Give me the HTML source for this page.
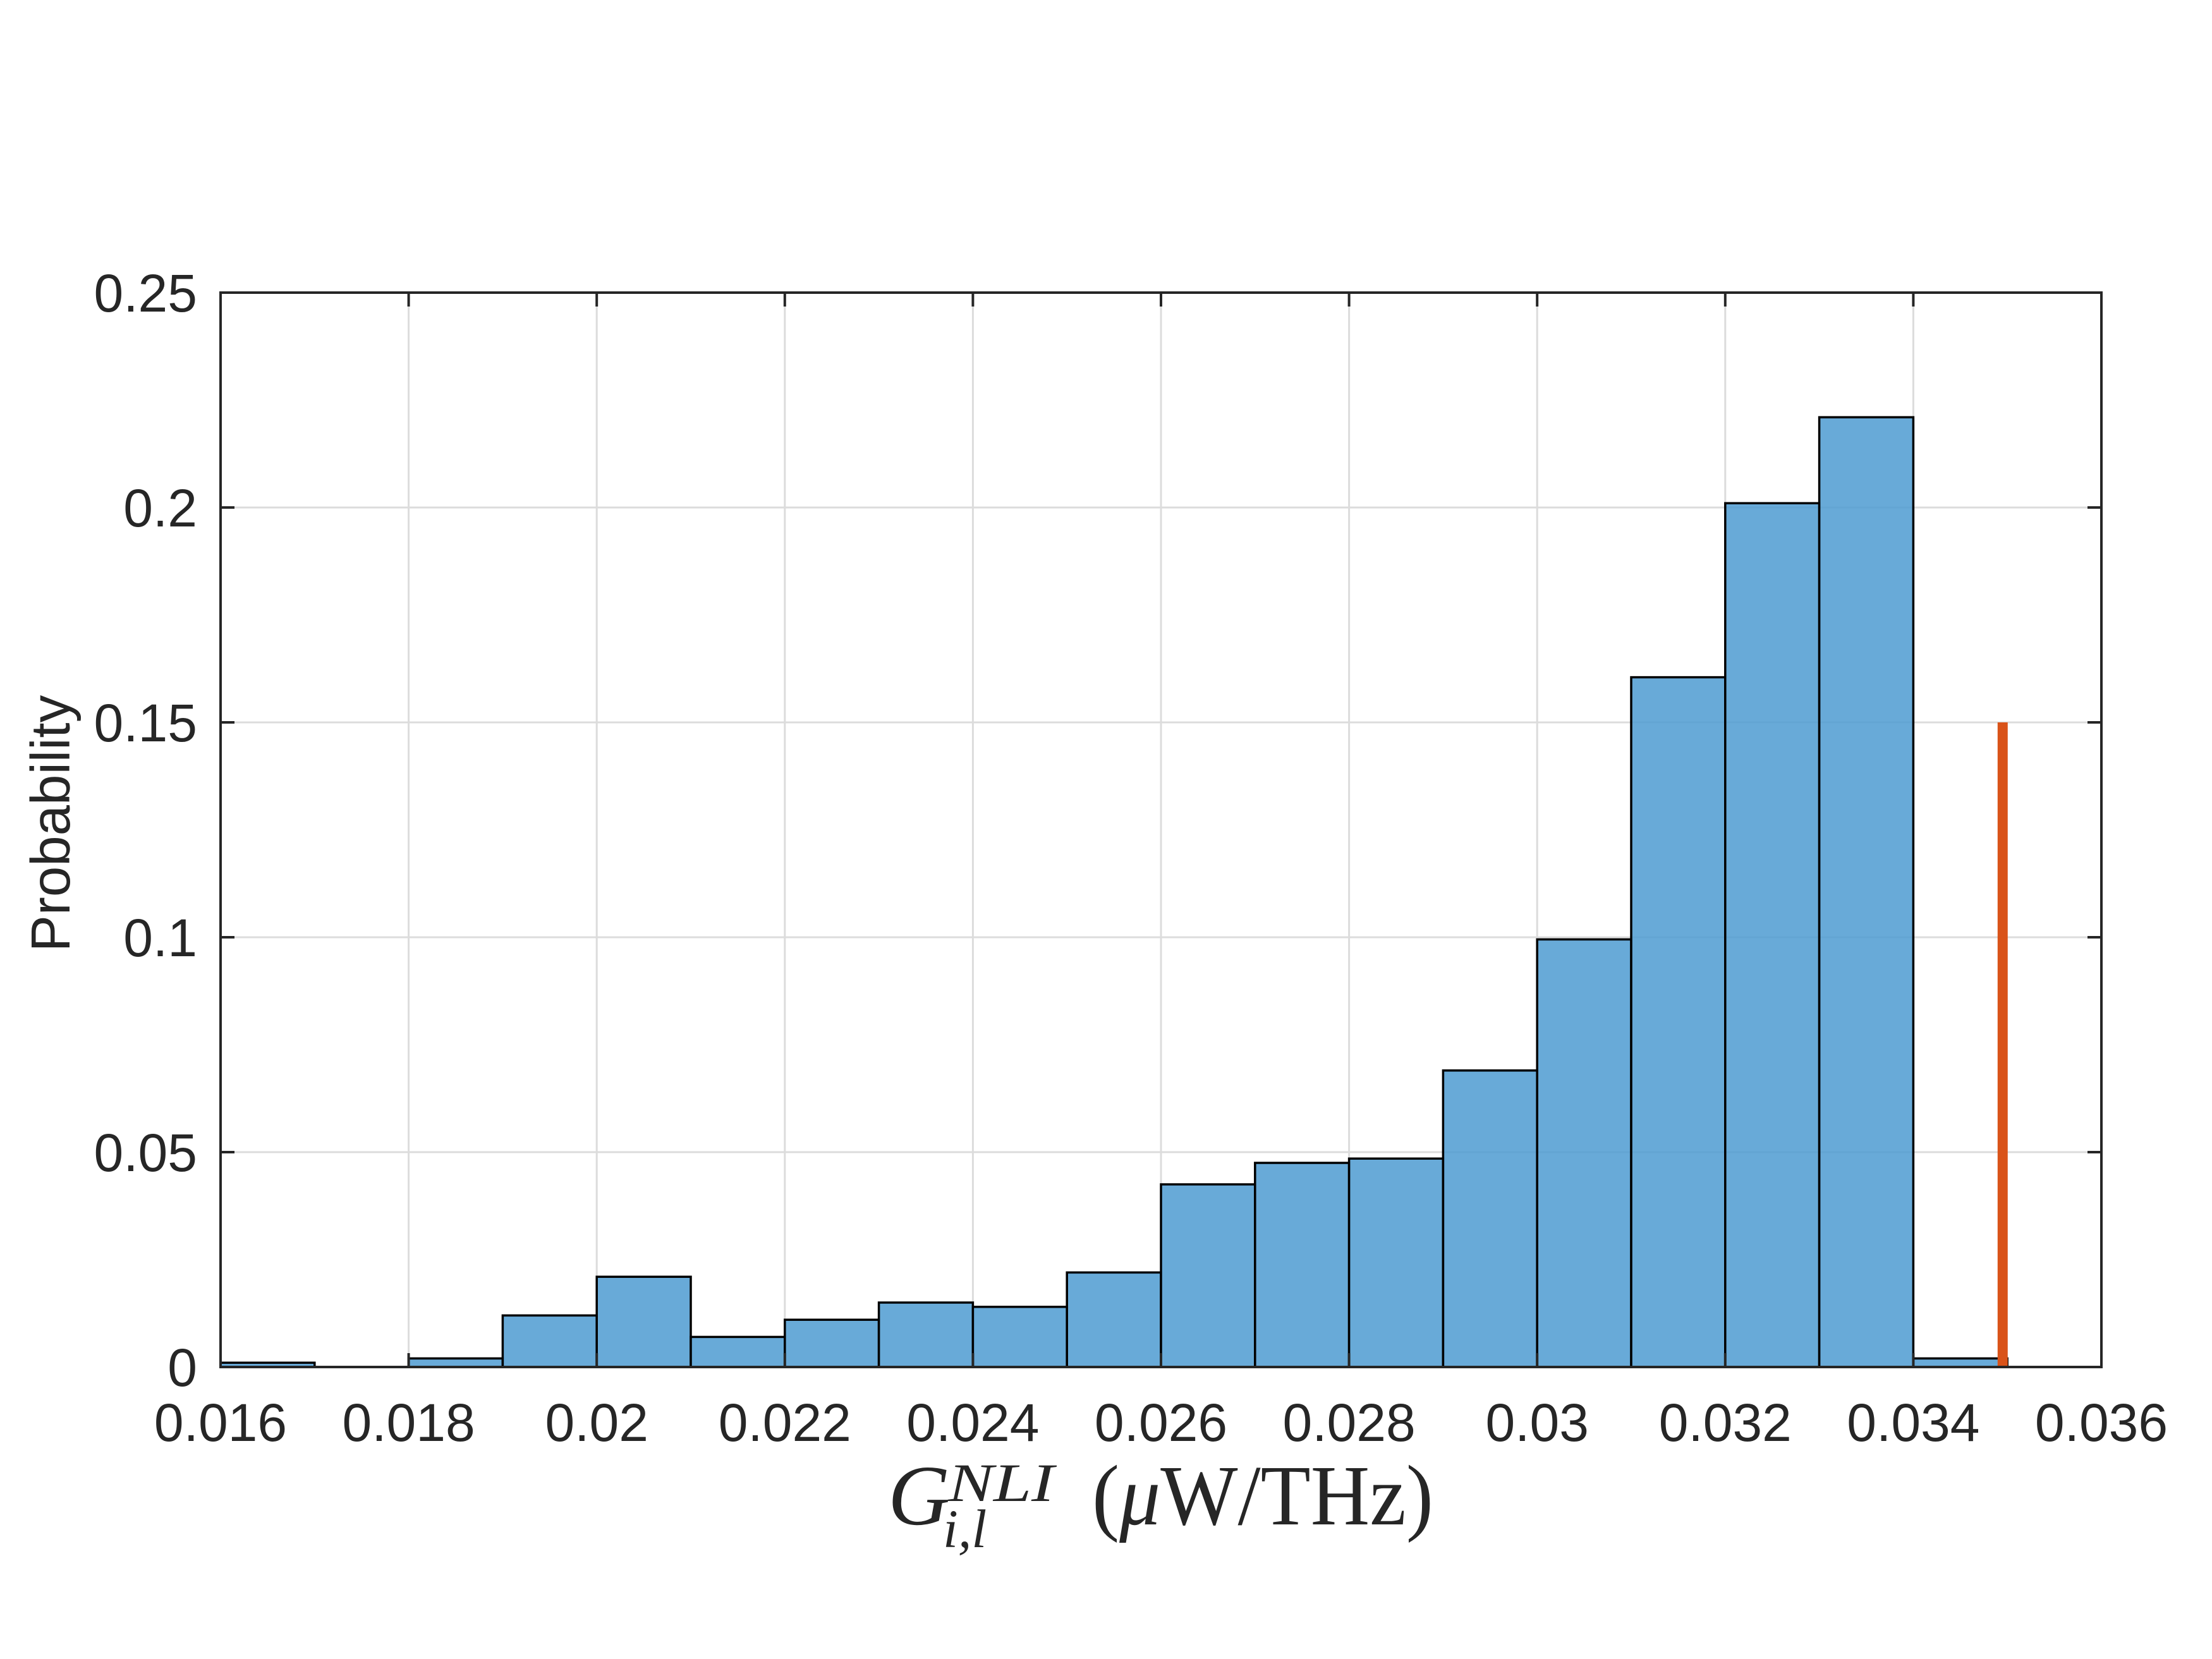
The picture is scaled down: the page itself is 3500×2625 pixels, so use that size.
<!DOCTYPE html>
<html><head><meta charset="utf-8"><style>body{margin:0;background:#fff}svg{display:block}</style></head>
<body>
<svg id="chart" width="3500" height="2625" xmlns="http://www.w3.org/2000/svg">
<rect width="3500" height="2625" fill="#fff"/>
<g id="grid"></g>
<g id="bars"></g>
<g id="marker"></g>
<g id="axes"></g>
<text x="0" y="0" transform="translate(110,1303) rotate(-90)" text-anchor="middle" font-family="Liberation Sans, sans-serif" font-size="87" fill="#262626">Probability</text>
<g font-family="Liberation Serif, serif" fill="#262626">
<text x="1405" y="2412" font-size="136" font-style="italic">G</text>
<text x="1500" y="2375" font-size="86" font-style="italic" textLength="168" lengthAdjust="spacingAndGlyphs">NLI</text>
<text x="1492" y="2448" font-size="86" font-style="italic">i,l</text>
<text x="1728" y="2412" font-size="136" textLength="540" lengthAdjust="spacingAndGlyphs">(<tspan font-style="italic">μ</tspan>W/THz)</text>
</g>
</svg>
<script>
const binEdgesStart = 0.016;
const binWidth = 0.001;
const probabilities = [0.001, 0, 0.002, 0.012, 0.021, 0.007, 0.011, 0.015, 0.014, 0.022, 0.0425, 0.0475, 0.0485, 0.069, 0.0995, 0.1605, 0.201, 0.221, 0.002];
const markerX = [0.03495];
const markerHeight = [0.15];
const xTicks = [0.016, 0.018, 0.020, 0.022, 0.024, 0.026, 0.028, 0.030, 0.032, 0.034, 0.036];
const xTickLabels = ["0.016","0.018","0.02","0.022","0.024","0.026","0.028","0.03","0.032","0.034","0.036"];
const yTicks = [0, 0.05, 0.1, 0.15, 0.2, 0.25];
const yTickLabels = ["0","0.05","0.1","0.15","0.2","0.25"];

const L=349,R=3325,T=463,B=2163;
const X=v=>L+(v-0.016)/0.02*(R-L);
const Y=v=>B-v/0.25*(B-T);
const NS="http://www.w3.org/2000/svg";
function mk(tag,attrs,parent){const e=document.createElementNS(NS,tag);for(const k in attrs)e.setAttribute(k,attrs[k]);parent.appendChild(e);return e;}
const grid=document.getElementById('grid'),bars=document.getElementById('bars'),marker=document.getElementById('marker'),axes=document.getElementById('axes');
xTicks.forEach((t,i)=>{
  if(i>0&&i<xTicks.length-1){const g=mk('line',{x1:X(t),x2:X(t),y1:T,y2:B,stroke:'#dcdcdc','stroke-width':3},grid);
  
  }
});
yTicks.forEach((t,i)=>{
  if(i>0&&i<yTicks.length-1){const g=mk('line',{x1:L,x2:R,y1:Y(t),y2:Y(t),stroke:'#dcdcdc','stroke-width':3},grid);
  
  }
});
probabilities.forEach((p,i)=>{
  const x0=binEdgesStart+i*binWidth;
  const r=mk('rect',{x:X(x0),y:Y(p),width:X(x0+binWidth)-X(x0),height:B-Y(p),fill:'#4d9bd1','fill-opacity':0.85,stroke:'#000','stroke-width':3.5},bars);
  
  
});
markerX.forEach((m,i)=>{
  const l=mk('line',{x1:X(m),x2:X(m),y1:Y(0),y2:Y(markerHeight[i]),stroke:'#d95319','stroke-width':16},marker);
  
  
});
const box=mk('rect',{x:L,y:T,width:R-L,height:B-T,fill:'none',stroke:'#262626','stroke-width':4},axes);


xTicks.forEach((t,i)=>{
  mk('line',{x1:X(t),x2:X(t),y1:B,y2:B-22,stroke:'#262626','stroke-width':4},axes);
  mk('line',{x1:X(t),x2:X(t),y1:T,y2:T+22,stroke:'#262626','stroke-width':4},axes);
  const tx=mk('text',{x:X(t),y:2280,'text-anchor':'middle','font-family':'Liberation Sans, sans-serif','font-size':84,fill:'#262626'},axes);
  tx.textContent=xTickLabels[i];
  
  
});
yTicks.forEach((t,i)=>{
  mk('line',{x1:L,x2:L+22,y1:Y(t),y2:Y(t),stroke:'#262626','stroke-width':4},axes);
  mk('line',{x1:R,x2:R-22,y1:Y(t),y2:Y(t),stroke:'#262626','stroke-width':4},axes);
  const tx=mk('text',{x:312,y:Y(t)+30,'text-anchor':'end','font-family':'Liberation Sans, sans-serif','font-size':84,fill:'#262626'},axes);
  tx.textContent=yTickLabels[i];
  
  
});
</script>
</body></html>
